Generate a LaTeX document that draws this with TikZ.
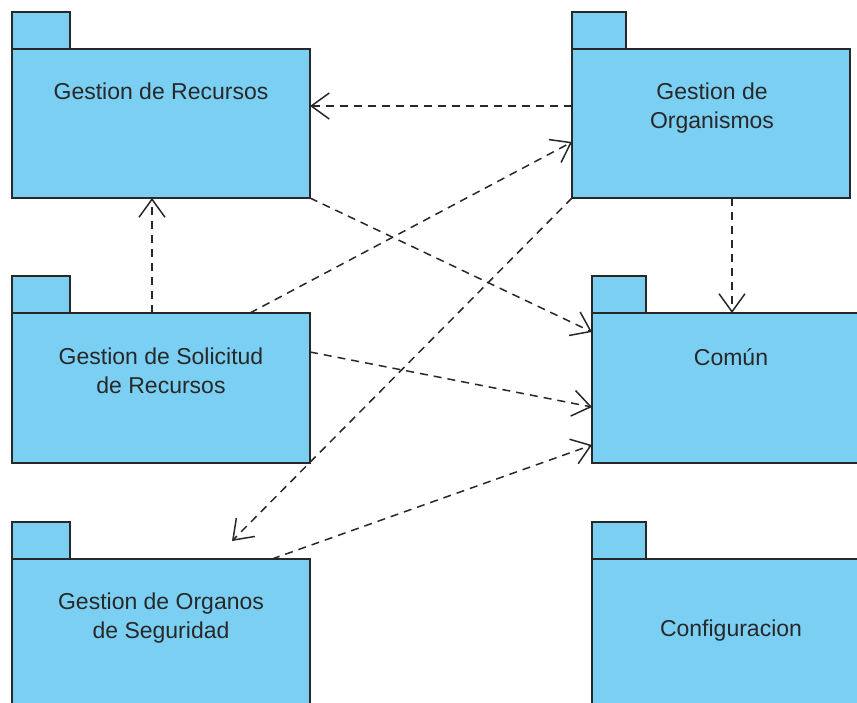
\documentclass[tikz,border=0pt]{standalone}
\usepackage{fontspec}
\setmainfont{Liberation Sans}
\usetikzlibrary{arrows.meta}
\definecolor{pkgfill}{RGB}{122,207,243}
\definecolor{pkgline}{RGB}{40,40,40}
\tikzset{
  pkg/.style={draw=pkgline, fill=pkgfill, line width=1.8pt},
  lbl/.style={align=center, font=\fontsize{23}{29}\selectfont, text=pkgline, inner sep=0pt},
  dep/.style={draw=pkgline, line width=1.5pt, dash pattern=on 8pt off 6pt,
    -{Straight Barb[length=18pt, width=26pt, line width=1.5pt]}}
}
\begin{document}
\begin{tikzpicture}[x=1pt, y=-1pt]
\useasboundingbox (0,0) rectangle (857,702);
% Gestion de Recursos
\draw[pkg] (12,12) rectangle (70,49);
\draw[pkg] (12,49) rectangle (310,198);
\node[lbl] (recT) at (161,91) {Gestion de Recursos};
% Gestion de Organismos
\draw[pkg] (572,12) rectangle (626,49);
\draw[pkg] (572,49) rectangle (850,198);
\node[lbl] (orgT) at (712,108) {Gestion de\\ Organismos};
% Solicitud
\draw[pkg] (12,276) rectangle (70,313);
\draw[pkg] (12,313) rectangle (310,463);
\node[lbl] (solT) at (161,371) {Gestion de Solicitud\\ de Recursos};
% Organos
\draw[pkg] (12,522) rectangle (70,559);
\draw[pkg] (12,559) rectangle (310,710);
\node[lbl] (ogsT) at (161,618) {Gestion de Organos\\ de Seguridad};
% Comun
\draw[pkg] (592,276) rectangle (646,313);
\draw[pkg] (592,313) rectangle (870,463);
\node[lbl] (comT) at (731,357) {Común};
% Configuracion
\draw[pkg] (592,522) rectangle (646,559);
\draw[pkg] (592,559) rectangle (870,710);
\node[lbl] (cfgT) at (731,631) {Configuracion};
% connector end points
\coordinate (orgL1) at (572,106);
\coordinate (recR1) at (310,106);
\coordinate (solTop1) at (152,313);
\coordinate (recB1) at (152,198);
\coordinate (solTop2) at (250,313);
\coordinate (orgL2) at (572,142);
\coordinate (orgBL) at (572,198);
\coordinate (ogsTip) at (232,541);
\coordinate (recBR) at (310,198);
\coordinate (comL1) at (592,332);
\coordinate (solR) at (310,352);
\coordinate (comL2) at (592,407);
\coordinate (ogsTop) at (272,559);
\coordinate (comL3) at (592,445);
\coordinate (orgB) at (732,198);
\coordinate (comTop) at (732,313);
% dependencies
\draw[dep] (orgL1) -- (recR1);
\draw[dep] (solTop1) -- (recB1);
\draw[dep] (solTop2) -- (orgL2);
\draw[dep] (orgBL) -- (ogsTip);
\draw[dep] (recBR) -- (comL1);
\draw[dep] (solR) -- (comL2);
\draw[dep] (ogsTop) -- (comL3);
\draw[dep] (orgB) -- (comTop);
\end{tikzpicture}
\end{document}
